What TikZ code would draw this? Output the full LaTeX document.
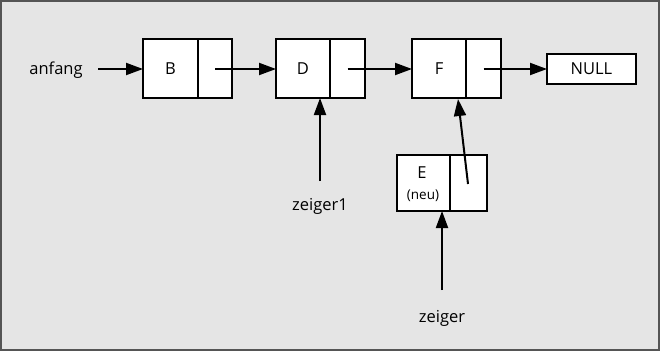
\documentclass[tikz,border=0pt]{standalone}
\usepackage{fontspec}
\setmainfont{Open Sans}
\usetikzlibrary{arrows.meta}
\definecolor{panel}{HTML}{E5E5E5}
\definecolor{frame}{HTML}{555555}
\newcommand{\lblfont}{\fontsize{16.5pt}{19pt}\selectfont}
\tikzset{
  cell/.style={draw=black, fill=white, line width=2pt, minimum height=59pt,
    inner sep=0pt, outer sep=0pt, anchor=north west, font=\lblfont},
  ptr/.style={line width=2pt, -{Triangle[length=17pt,width=12pt]}},
  lbl/.style={font=\lblfont, inner sep=0pt},
}
\begin{document}
\begin{tikzpicture}[x=1pt,y=-1pt]
  % panel
  \fill[panel] (0,0) rectangle (660,351);
  \draw[frame, line width=2pt] (1,1) rectangle (659,350);
  \useasboundingbox (0,0) rectangle (660,351);

  % list nodes: data cell + pointer cell
  \node[cell, minimum width=55pt] (B) at (143,39) {B};
  \node[cell, minimum width=34pt] (Bp) at (B.north east) {};
  \node[cell, minimum width=54pt] (D) at (276,39) {D};
  \node[cell, minimum width=35pt] (Dp) at (D.north east) {};
  \node[cell, minimum width=54pt] (F) at (412,39) {F};
  \node[cell, minimum width=35pt] (Fp) at (F.north east) {};
  \node[cell, minimum width=89pt, minimum height=30pt] (N) at (547,54) {NULL};

  \node[cell, minimum width=53pt, minimum height=56pt] (E) at (397,155) {};
  \node[cell, minimum width=37pt, minimum height=56pt] (Ep) at (E.north east) {};
  \node[lbl] (Et) at (422,173) {E};
  \node[lbl, font=\fontsize{13.5pt}{16pt}\selectfont] (En) at (423,196) {(neu)};

  % labels
  \node[lbl] (anf) at (56,70) {anfang};
  \node[lbl] (z1) at (320,206) {zeiger1};
  \node[lbl] (z) at (442,318) {zeiger};

  % free ends of connectors
  \coordinate (anfE) at (98,69);
  \coordinate (z1E) at (320,181);
  \coordinate (zE) at (442,290);
  \coordinate (EpE) at (468,184);
  \coordinate (Fin) at (458,99);

  % connectors
  \draw[ptr] (anfE) -- (B.west |- anfE);
  \draw[ptr] (Bp.center |- anfE) -- (D.west |- anfE);
  \draw[ptr] (Dp.center |- anfE) -- (F.west |- anfE);
  \draw[ptr] (Fp.center |- anfE) -- (N.west |- anfE);
  \draw[ptr] (z1E) -- (z1E |- D.south);
  \draw[ptr] (zE) -- (zE |- E.south);
  \draw[ptr] (EpE) -- (Fin);
\end{tikzpicture}
\end{document}
